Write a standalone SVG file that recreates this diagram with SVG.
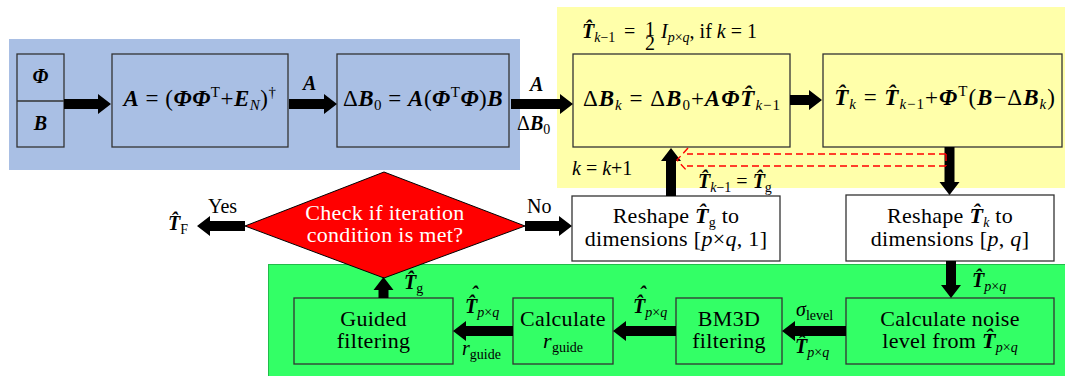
<svg xmlns="http://www.w3.org/2000/svg" width="1065" height="376" viewBox="0 0 1065 376">
<style>
.box{stroke:#333;stroke-width:1.3;fill:none}
.white{fill:#fff}
.t{font-family:"Liberation Serif","Times New Roman",serif;font-size:22px;letter-spacing:0.3px;fill:#000}
.f{font-family:"Liberation Serif","Times New Roman",serif;font-size:23px;letter-spacing:0.5px;fill:#000}
.f2{letter-spacing:1px}
.l{font-family:"Liberation Serif","Times New Roman",serif;font-size:20px;fill:#000}
.w{fill:#fff}
.bi{font-weight:bold;font-style:italic}
.it{font-style:italic}
.s{font-size:14px;letter-spacing:0}
.fs{font-size:15px}
.arr{fill:#000}
.dash{fill:none;stroke:#f00;stroke-width:1.4;stroke-dasharray:7 4}
</style>
<rect x="9" y="39" width="511" height="131" fill="#a9bfe4"/>
<rect x="557" y="7" width="508" height="181" fill="#ffffaa"/>
<rect x="268.5" y="264.5" width="797" height="112" fill="#33ff66" stroke="#22bb4a"/>

<g id="input">
<rect class="box" x="17" y="54" width="47" height="93"/>
<line x1="17" y1="101" x2="64" y2="101" stroke="#333" stroke-width="1.3"/>
<text class="l bi" x="40.5" y="83" text-anchor="middle">Φ</text>
<text class="l bi" x="40.5" y="130" text-anchor="middle" font-size="21">B</text>
</g>
<g id="boxA">
<rect class="box" x="112" y="54" width="176" height="93"/>
<text class="f" x="200" y="106" text-anchor="middle"><tspan class="bi">A</tspan> = (<tspan class="bi">ΦΦ</tspan><tspan class="fs" dy="-9">T</tspan><tspan dy="9">+</tspan><tspan class="bi">E</tspan><tspan class="fs it" dy="4">N</tspan><tspan dy="-4">)</tspan><tspan class="fs" dy="-9">†</tspan></text>
</g>
<g id="boxB0">
<rect class="box" x="337" y="54" width="172" height="93"/>
<text class="f" x="423" y="106" text-anchor="middle">Δ<tspan class="bi">B</tspan><tspan class="fs" dy="4">0</tspan><tspan dy="-4"> = </tspan><tspan class="bi">A</tspan>(<tspan class="bi">Φ</tspan><tspan class="fs" dy="-9">T</tspan><tspan class="bi" dy="9">Φ</tspan>)<tspan class="bi">B</tspan></text>
</g>
<g id="boxBk">
<rect class="box" x="573" y="54" width="217" height="93"/>
<text class="f f2" x="682" y="106" text-anchor="middle">Δ<tspan class="bi">B</tspan><tspan class="fs it" dy="4">k</tspan><tspan dy="-4"> = Δ</tspan><tspan class="bi">B</tspan><tspan class="fs" dy="4">0</tspan><tspan dy="-4">+</tspan><tspan class="bi">AΦT̂</tspan><tspan class="fs" dy="4"><tspan class="it">k</tspan>−1</tspan></text>
</g>
<g id="boxTk">
<rect class="box" x="823" y="54" width="239" height="93"/>
<text class="f f2" x="945" y="105" text-anchor="middle"><tspan class="bi">T̂</tspan><tspan class="fs it" dy="4">k</tspan><tspan dy="-4"> = </tspan><tspan class="bi">T̂</tspan><tspan class="fs" dy="4"><tspan class="it">k</tspan>−1</tspan><tspan dy="-4">+</tspan><tspan class="bi">Φ</tspan><tspan class="fs" dy="-9">T</tspan><tspan dy="9">(</tspan><tspan class="bi">B</tspan>−Δ<tspan class="bi">B</tspan><tspan class="fs it" dy="4">k</tspan><tspan dy="-4">)</tspan></text>
</g>
<g id="reshapeG">
<rect class="box white" x="572" y="196" width="208" height="65"/>
<text class="t" x="676" y="223" text-anchor="middle">Reshape <tspan class="bi">T̂</tspan><tspan class="s" dy="4">g</tspan><tspan dy="-4"> to</tspan></text>
<text class="t" x="676" y="246" text-anchor="middle">dimensions [<tspan class="it">p</tspan>×<tspan class="it">q</tspan>, 1]</text>
</g>
<g id="reshapeK">
<rect class="box white" x="846" y="195" width="208" height="66"/>
<text class="t" x="950" y="223" text-anchor="middle">Reshape <tspan class="bi">T̂</tspan><tspan class="s it" dy="4">k</tspan><tspan dy="-4"> to</tspan></text>
<text class="t" x="950" y="246" text-anchor="middle">dimensions [<tspan class="it">p</tspan>, <tspan class="it">q</tspan>]</text>
</g>
<g id="decision">
<polygon points="384,172 525,226 384,278 245,226" fill="#f00" stroke="#000" stroke-width="1"/>
<text class="t w" x="385" y="220" text-anchor="middle">Check if iteration</text>
<text class="t w" x="385" y="242" text-anchor="middle">condition is met?</text>
</g>
<g id="noise">
<rect class="box" x="846" y="298" width="208" height="66"/>
<text class="t" x="950" y="326" text-anchor="middle">Calculate noise</text>
<text class="t" x="950" y="348" text-anchor="middle">level from <tspan class="bi">T̂</tspan><tspan class="s" dy="4"><tspan class="it">p</tspan>×<tspan class="it">q</tspan></tspan></text>
</g>
<g id="bm3d">
<rect class="box" x="676" y="298" width="106" height="66"/>
<text class="t" x="729" y="326" text-anchor="middle">BM3D</text>
<text class="t" x="729" y="348" text-anchor="middle">filtering</text>
</g>
<g id="calcr">
<rect class="box" x="513" y="298" width="100" height="66"/>
<text class="t" x="563" y="326" text-anchor="middle">Calculate</text>
<text class="t" x="563" y="348" text-anchor="middle"><tspan class="it">r</tspan><tspan class="s" dy="4">guide</tspan></text>
</g>
<g id="guided">
<rect class="box" x="294" y="298" width="159" height="66"/>
<text class="t" x="373.5" y="326" text-anchor="middle">Guided</text>
<text class="t" x="373.5" y="348" text-anchor="middle">filtering</text>
</g>

<g id="connectors">
<polygon class="arr" points="64,99 98,99 98,94 111,104 98,114 98,109 64,109"/>
<polygon class="arr" points="289,99 324,99 324,94 337,104 324,114 324,109 289,109"/>
<polygon class="arr" points="511,99 560,99 560,94 573,104 560,114 560,109 511,109"/>
<polygon class="arr" points="790,95 809,95 809,90 822,100 809,110 809,105 790,105"/>
<polygon class="arr" points="944.5,147 944.5,182 939.5,182 949.5,195 959.5,182 954.5,182 954.5,147"/>
<polygon class="arr" points="666,196 666,161 661,161 671,148 681,161 676,161 676,196"/>
<polygon class="arr" points="245,221 210,221 210,216 197,226 210,236 210,231 245,231"/>
<polygon class="arr" points="525,221 559,221 559,216 572,226 559,236 559,231 525,231"/>
<polygon class="arr" points="946,261 946,285 941,285 951,298 961,285 956,285 956,261"/>
<polygon class="arr" points="846,326 795,326 795,321 782,331 795,341 795,336 846,336"/>
<polygon class="arr" points="676,326 626,326 626,321 613,331 626,341 626,336 676,336"/>
<polygon class="arr" points="513,326 466,326 466,321 453,331 466,341 466,336 513,336"/>
<polygon class="arr" points="378.5,298 378.5,290 373.5,290 383.5,277 393.5,290 388.5,290 388.5,298"/>
<path class="dash" d="M946,154 H687 M946,166 H687 M946,154 V166"/>
<path class="dash" d="M688,148 L677,160 L688,172" stroke-dasharray="4 3"/>
</g>

<g id="labels">
<text class="l bi" x="303" y="90">A</text>
<text class="l bi" x="530" y="91">A</text>
<text class="l" x="517" y="130">Δ<tspan class="bi">B</tspan><tspan class="s" dy="4">0</tspan></text>
<text class="l" x="582" y="38"><tspan class="bi">T̂</tspan><tspan class="s" dy="4"><tspan class="it">k</tspan>−1</tspan></text>
<text class="l" x="624" y="38">=</text>
<text class="l" x="650" y="36" font-size="17" text-anchor="middle">1</text>
<text class="l" x="650" y="50" font-size="15" text-anchor="middle">2</text>
<text class="l" x="661" y="38"><tspan class="it">I</tspan><tspan class="s" dy="4"><tspan class="it">p</tspan>×<tspan class="it">q</tspan></tspan><tspan dy="-4">, if </tspan><tspan class="it">k</tspan> = 1</text>
<text class="l" x="572" y="175"><tspan class="it">k</tspan> = <tspan class="it">k</tspan>+1</text>
<text class="l" x="698" y="188"><tspan class="bi">T̂</tspan><tspan class="s" dy="4"><tspan class="it">k</tspan>−1</tspan><tspan dy="-4"> = </tspan><tspan class="bi">T̂</tspan><tspan class="s" dy="4">g</tspan></text>
<text class="l" x="208" y="213">Yes</text>
<text class="l" x="527" y="213">No</text>
<text class="l" x="168" y="230"><tspan class="bi">T̂</tspan><tspan class="s" dy="4">F</tspan></text>
<text class="l" x="404" y="289"><tspan class="bi">T̂</tspan><tspan class="s" dy="4">g</tspan></text>
<text class="l" x="465" y="313"><tspan class="bi">T̂</tspan><tspan class="s" dy="4"><tspan class="it">p</tspan>×<tspan class="it">q</tspan></tspan></text>
<text class="l bi" x="474.5" y="300.5" text-anchor="middle" font-size="18">ˆ</text>
<text class="l" x="462" y="355"><tspan class="it">r</tspan><tspan class="s" dy="4">guide</tspan></text>
<text class="l" x="633" y="313"><tspan class="bi">T̂</tspan><tspan class="s" dy="4"><tspan class="it">p</tspan>×<tspan class="it">q</tspan></tspan></text>
<text class="l bi" x="642.5" y="300.5" text-anchor="middle" font-size="18">ˆ</text>
<text class="l" x="796" y="316"><tspan class="it">σ</tspan><tspan class="s" dy="4">level</tspan></text>
<text class="l" x="795" y="353"><tspan class="bi">T̂</tspan><tspan class="s" dy="4"><tspan class="it">p</tspan>×<tspan class="it">q</tspan></tspan></text>
<text class="l" x="972" y="287"><tspan class="bi">T̂</tspan><tspan class="s" dy="4"><tspan class="it">p</tspan>×<tspan class="it">q</tspan></tspan></text>
</g>
</svg>
